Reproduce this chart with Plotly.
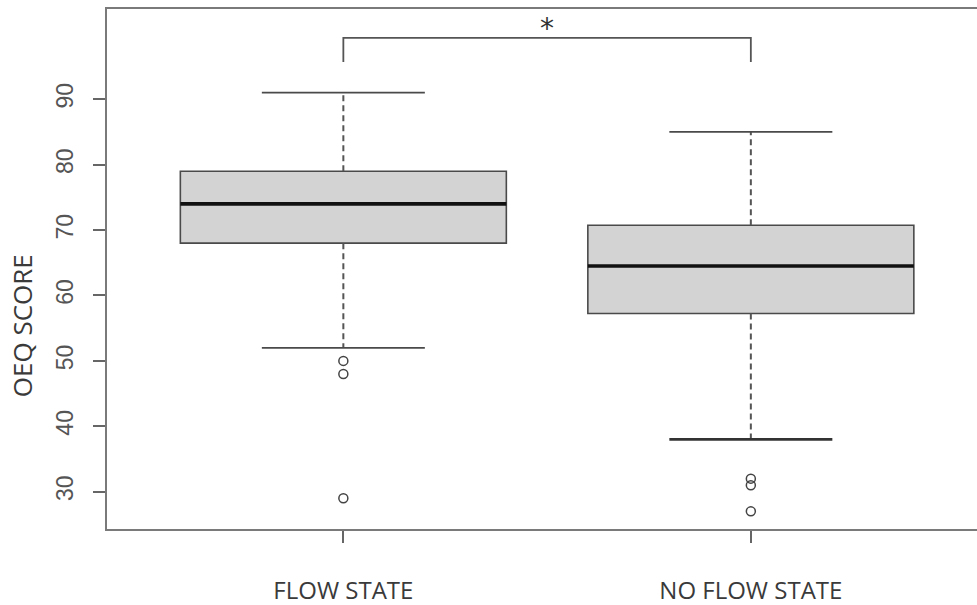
import plotly.graph_objects as go

# ---- data ----
categories = ["FLOW STATE", "NO FLOW STATE"]
positions = [1, 2]
q1 = [68, 57.25]
median = [74, 64.5]
q3 = [79, 70.75]
lower_whisker = [52, 38]
upper_whisker = [91, 85]
outliers = [[50, 48, 29], [32, 31, 27]]
y_ticks = [30, 40, 50, 60, 70, 80, 90]
y_title = "OEQ SCORE"
signif_label = "*"
bracket_top = 99.4
bracket_bottom = 95.7
star_level = 100.4

# ---- style ----
BOX_WIDTH = 0.8
STAPLE_HALF = 0.2
LINE = "#4a4a4a"
AXIS = "#7a7a7a"
UPPER_STAPLE_W = [1.8, 1.8]
LOWER_STAPLE_W = [1.8, 2.6]

fig = go.Figure()

for i, pos in enumerate(positions):
    # dashed whiskers
    fig.add_trace(go.Scatter(
        x=[pos, pos, None, pos, pos],
        y=[q3[i], upper_whisker[i], None, q1[i], lower_whisker[i]],
        mode="lines", line=dict(color="#555555", width=2, dash="6px,4px"),
        hoverinfo="skip", showlegend=False))
    # staples
    fig.add_trace(go.Scatter(
        x=[pos - STAPLE_HALF, pos + STAPLE_HALF],
        y=[upper_whisker[i], upper_whisker[i]],
        mode="lines", line=dict(color=LINE, width=UPPER_STAPLE_W[i]),
        hoverinfo="skip", showlegend=False))
    fig.add_trace(go.Scatter(
        x=[pos - STAPLE_HALF, pos + STAPLE_HALF],
        y=[lower_whisker[i], lower_whisker[i]],
        mode="lines", line=dict(color=LINE if i == 0 else "#333333", width=LOWER_STAPLE_W[i]),
        hoverinfo="skip", showlegend=False))
    # box
    fig.add_trace(go.Box(
        x=[pos], q1=[q1[i]], median=[median[i]], q3=[q3[i]],
        lowerfence=[q1[i]], upperfence=[q3[i]],
        width=BOX_WIDTH, whiskerwidth=0,
        fillcolor="#d3d3d3", line=dict(color=LINE, width=1.6),
        boxpoints=False, hoverinfo="skip", showlegend=False))
    # thick median
    fig.add_trace(go.Scatter(
        x=[pos - BOX_WIDTH / 2, pos + BOX_WIDTH / 2],
        y=[median[i], median[i]],
        mode="lines", line=dict(color="#111111", width=3.6),
        hoverinfo="skip", showlegend=False))
    # outliers
    fig.add_trace(go.Scatter(
        x=[pos] * len(outliers[i]), y=outliers[i], mode="markers",
        marker=dict(symbol="circle-open", size=9, color="#444444", line=dict(width=1.5)),
        hoverinfo="skip", showlegend=False))

# significance bracket
fig.add_trace(go.Scatter(
    x=[positions[0], positions[0], positions[1], positions[1]],
    y=[bracket_bottom, bracket_top, bracket_top, bracket_bottom],
    mode="lines", line=dict(color="#555555", width=1.8),
    hoverinfo="skip", showlegend=False))
fig.add_trace(go.Scatter(
    x=[(positions[0] + positions[1]) / 2], y=[star_level], mode="text",
    text=[signif_label], textfont=dict(family="DejaVu Sans", size=28, color="#333333"),
    hoverinfo="skip", showlegend=False))

fig.add_annotation(
    text=y_title, xref="paper", yref="paper", x=-0.0977, y=0.39,
    xanchor="center", yanchor="middle", textangle=-90, showarrow=False,
    font=dict(family="Open Sans", size=26, color="#3a3a3a"))

fig.update_layout(
    width=977, height=605,
    margin=dict(l=107, r=0, t=9, b=76),
    paper_bgcolor="white", plot_bgcolor="white",
    boxmode="overlay",
    xaxis=dict(
        range=[0.42, 2.555], tickvals=positions, ticktext=categories,
        showline=True, mirror=True, linecolor=AXIS, linewidth=2,
        ticks="outside", ticklen=12, tickwidth=1.5, tickcolor="#666666",
        showgrid=False, zeroline=False, ticklabelstandoff=27, automargin=False,
        tickfont=dict(family="Open Sans", size=24, color="#3a3a3a")),
    yaxis=dict(
        range=[24.3, 103.8], tickvals=y_ticks, tickangle=-90,
        showline=True, linecolor=AXIS, linewidth=2,
        ticks="outside", ticklen=12, tickwidth=1.5, tickcolor="#666666",
        showgrid=False, zeroline=False, ticklabelstandoff=11, automargin=False,
        tickfont=dict(family="Liberation Sans", size=23, color="#555555")),
)

fig.write_html(
    "out.html",
    config={"displayModeBar": False},
    post_script="document.body.style.margin='0';document.body.style.overflow='hidden';")
